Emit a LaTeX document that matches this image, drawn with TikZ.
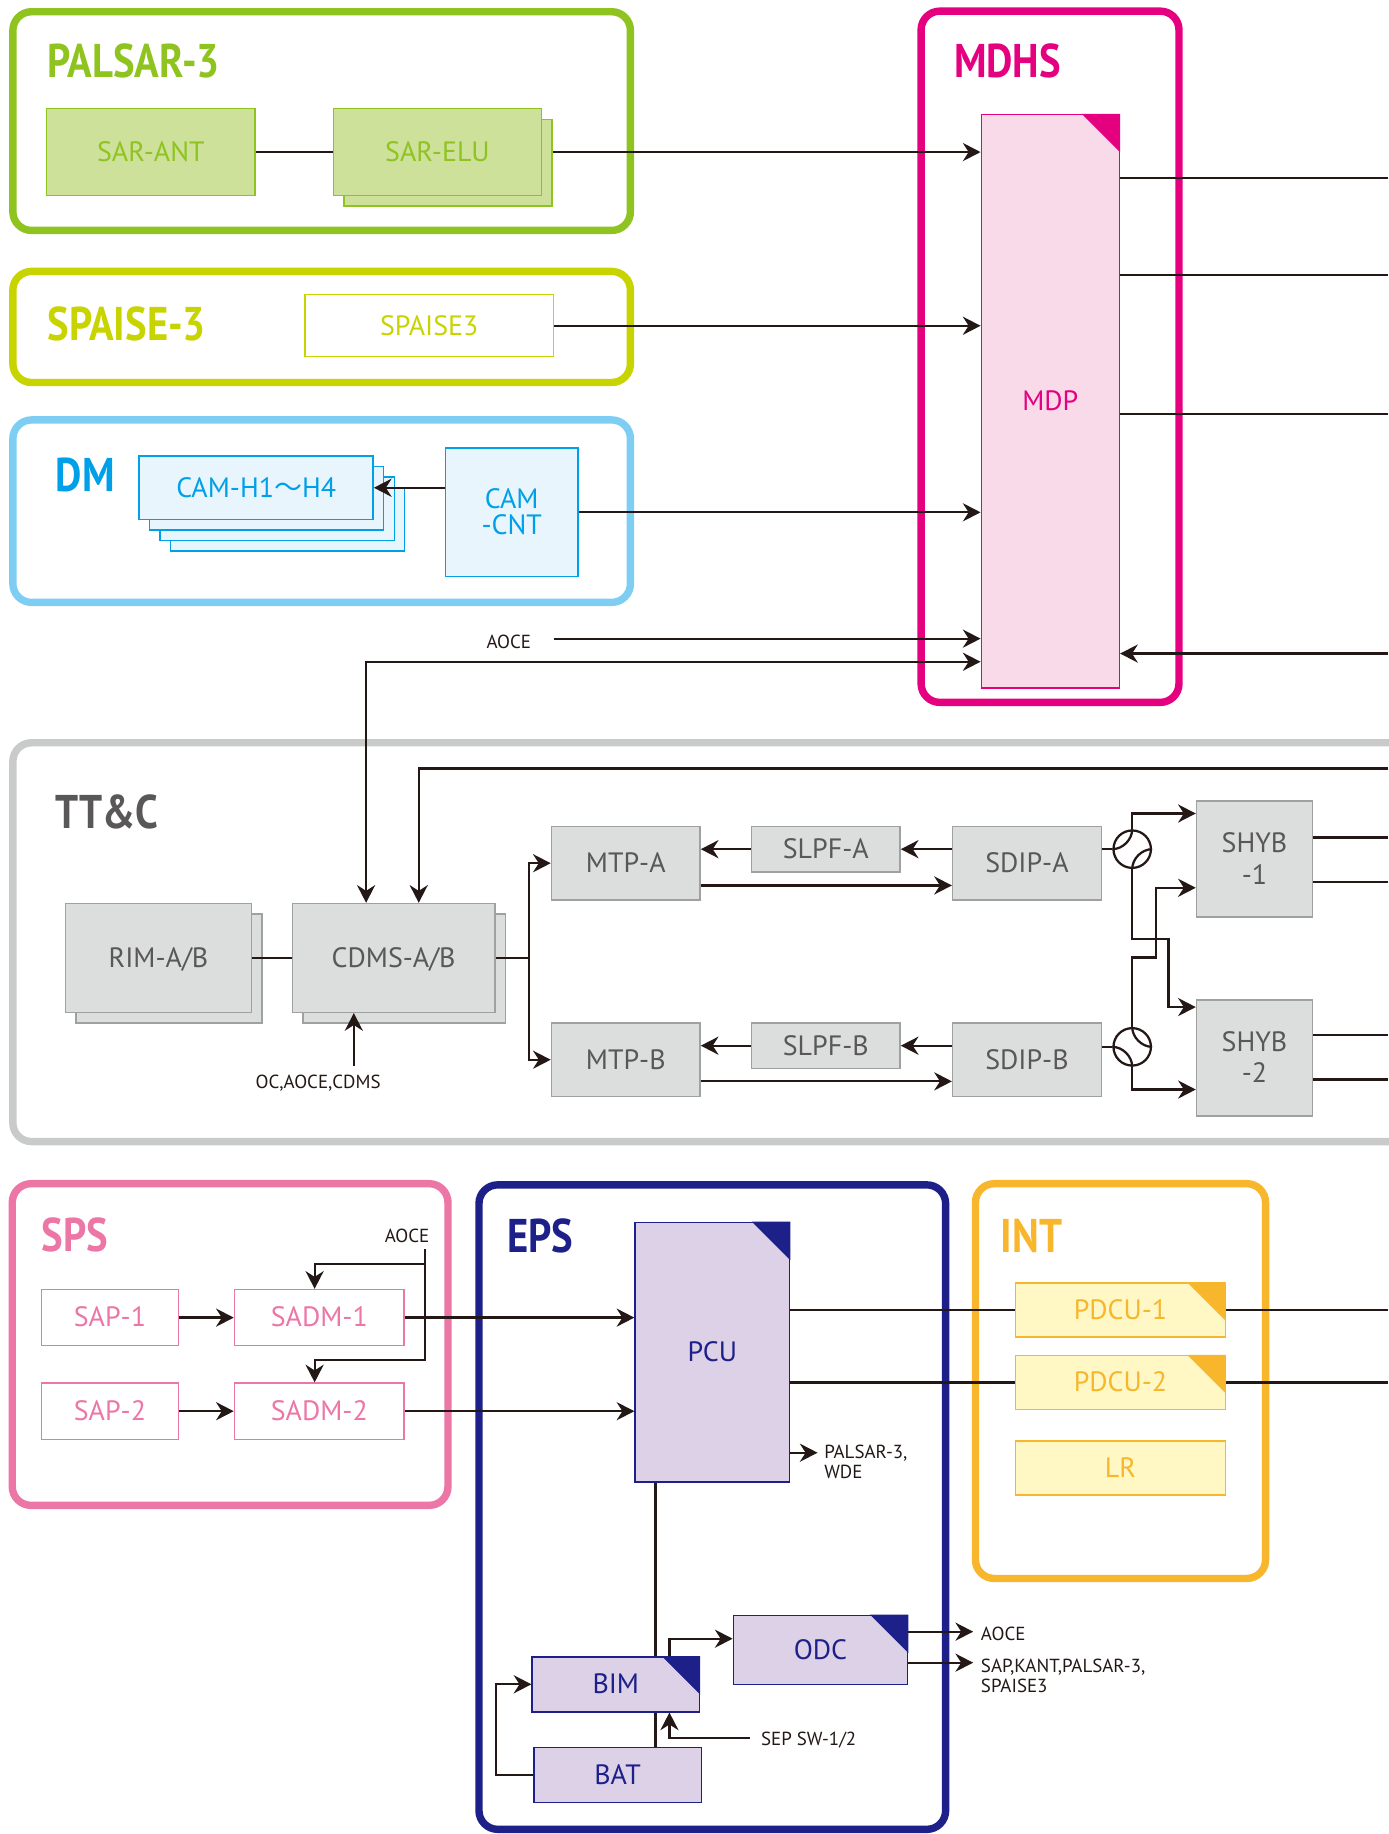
\documentclass[tikz,border=0pt]{standalone}
\usepackage{fontspec}
\setmainfont{PT Sans}
\newfontfamily\ttlfont{PT Sans}[FakeStretch=0.86]
\newfontfamily\cjkfont{Noto Sans CJK JP}
\usepackage{tikz}
\usetikzlibrary{positioning, arrows.meta, calc}
\definecolor{cK}{RGB}{35,24,21}
\definecolor{cPal}{RGB}{143,195,31}
\definecolor{cPalF}{RGB}{205,225,155}
\definecolor{cSpa}{RGB}{200,212,0}
\definecolor{cDm}{RGB}{126,206,244}
\definecolor{cDmT}{RGB}{0,160,233}
\definecolor{cDmF}{RGB}{232,245,252}
\definecolor{cMd}{RGB}{228,0,127}
\definecolor{cMdF}{RGB}{249,218,233}
\definecolor{cTt}{RGB}{201,202,202}
\definecolor{cTtF}{RGB}{220,221,221}
\definecolor{cTtE}{RGB}{159,160,160}
\definecolor{cTtT}{RGB}{89,87,87}
\definecolor{cSp}{RGB}{236,118,166}
\definecolor{cEp}{RGB}{29,32,136}
\definecolor{cEpF}{RGB}{221,209,232}
\definecolor{cIn}{RGB}{248,182,45}
\definecolor{cInF}{RGB}{255,248,196}

\tikzset{
  grp/.style={line width=1.8pt, rounded corners=0.16cm},
  ttl/.style={anchor=west, inner sep=0pt, font=\ttlfont\bfseries\fontsize{11.5pt}{13pt}\selectfont},
  blk/.style={draw, rectangle, inner sep=0pt, line width=0.35pt, align=center, text depth=0.3pt, font=\fontsize{6.8pt}{7.6pt}\selectfont},
  sz/.style 2 args={minimum width=#1cm, minimum height=#2cm},
  lbl/.style={inner sep=0pt, align=left, text=cK, font=\fontsize{4.6pt}{4.8pt}\selectfont},
  wire/.style={draw=cK, line width=0.55pt},
  arw/.style={wire, -{Stealth[length=4.3pt, width=4.4pt]}},
  darw/.style={wire, {Stealth[length=4.3pt, width=4.4pt]}-{Stealth[length=4.3pt, width=4.4pt]}},
  circ/.style={circle, draw=cK, line width=0.55pt, minimum size=0.32cm, inner sep=0pt},
  palB/.style={blk, fill=cPalF, draw=cPal, text=cPal},
  spaB/.style={blk, fill=white, draw=cSpa, text=cSpa},
  dmB/.style={blk, fill=cDmF, draw=cDmT, text=cDmT},
  mdB/.style={blk, fill=cMdF, draw=cMd, text=cMd},
  ttB/.style={blk, fill=cTtF, draw=cTtE, text=cTtT},
  spB/.style={blk, fill=white, draw=cSp, text=cSp},
  epB/.style={blk, fill=cEpF, draw=cEp, text=cEp},
  inB/.style={blk, fill=cInF, draw=cIn, text=cIn}
}
\newcommand{\cornertab}[2]{\fill[#2] (#1.north east) -- ++(-33,0) -- ++(33,33) -- cycle;}

\begin{document}
\begin{tikzpicture}[x=0.01cm, y=-0.01cm]
    \useasboundingbox (0,0) rectangle (1187,1568);
    \coordinate (xR) at (1187,0);

    % PALSAR-3
    \draw[grp, draw=cPal] (11,10) rectangle (539,197);
    \node[ttl, text=cPal] (tPal) at (40,52) {PALSAR-3};
    \node[palB, sz={1.78}{0.74}] (sarant) at (129,130) {SAR-ANT};
    \node[palB, sz={1.78}{0.74}] (sareluS) at (383,139) {};
    \node[palB, sz={1.78}{0.74}] (sarelu) at (374,130) {SAR-ELU};

    % SPAISE-3
    \draw[grp, draw=cSpa] (11,232) rectangle (539,327);
    \node[ttl, text=cSpa] (tSpa) at (40,277) {SPAISE-3};
    \node[spaB, sz={2.12}{0.53}] (spaise) at (367,278.5) {SPAISE3};

    % DM
    \draw[grp, draw=cDm] (11,359) rectangle (539,515);
    \node[ttl, text=cDmT] (tDm) at (47,406) {DM};
    \node[dmB, sz={2.00}{0.54}] (camh3) at (246,444) {};
    \node[dmB, sz={2.00}{0.54}] (camh2) at (237,435) {};
    \node[dmB, sz={2.00}{0.54}] (camh1) at (228,426) {};
    \node[dmB, sz={2.00}{0.54}] (camh) at (219,417) {CAM-H1{\cjkfont ～}H4};
    \node[dmB, sz={1.13}{1.10}] (camcnt) at (437.5,438) {CAM\\[-1.4pt]-CNT};

    % MDHS
    \draw[grp, draw=cMd] (787.5,9.5) rectangle (1008,600.5);
    \node[ttl, text=cMd] (tMd) at (815,52) {MDHS};
    \node[mdB, sz={1.18}{4.90}] (mdp) at (898,343) {MDP};
    \cornertab{mdp}{cMd}

    % TT&C
    \draw[grp, draw=cTt] (1200,635) -- (11,635) -- (11,976) -- (1200,976);
    \node[ttl, text=cTtT] (tTt) at (47,694) {TT\&C};
    \node[ttB, sz={1.59}{0.93}] (rimS) at (144.5,828) {};
    \node[ttB, sz={1.59}{0.93}] (rim) at (135.5,819) {RIM-A/B};
    \node[ttB, sz={1.73}{0.93}] (cdmsS) at (345.5,828) {};
    \node[ttB, sz={1.73}{0.93}] (cdms) at (336.5,819) {CDMS-A/B};
    \node[ttB, sz={1.27}{0.63}] (mtpa) at (535,738) {MTP-A};
    \node[ttB, sz={1.27}{0.39}] (slpfa) at (706,726) {SLPF-A};
    \node[ttB, sz={1.27}{0.63}] (sdipa) at (878,738) {SDIP-A};
    \node[ttB, sz={1.27}{0.63}] (mtpb) at (535,906) {MTP-B};
    \node[ttB, sz={1.27}{0.39}] (slpfb) at (706,894) {SLPF-B};
    \node[ttB, sz={1.27}{0.63}] (sdipb) at (878,906) {SDIP-B};
    \node[ttB, sz={0.99}{0.99}] (shyb1) at (1072.5,734.5) {SHYB\\-1};
    \node[ttB, sz={0.99}{0.99}] (shyb2) at (1072.5,904.5) {SHYB\\-2};
    \node[circ] (cira) at (968,726) {};
    \node[circ] (cirb) at (968,895) {};
    \node[lbl] (lbOC) at (272,926) {OC,AOCE,CDMS};
    \node[lbl] (lbAo1) at (435,548.5) {AOCE};

    % SPS
    \draw[grp, draw=cSp] (10.5,1012) rectangle (383,1287);
    \node[ttl, text=cSp] (tSp) at (35,1056) {SPS};
    \node[spB, sz={1.17}{0.48}] (sap1) at (94,1126.5) {SAP-1};
    \node[spB, sz={1.45}{0.48}] (sadm1) at (273,1126.5) {SADM-1};
    \node[spB, sz={1.17}{0.48}] (sap2) at (94,1206.5) {SAP-2};
    \node[spB, sz={1.45}{0.48}] (sadm2) at (273,1206.5) {SADM-2};
    \node[lbl] (lbAo2) at (348,1057) {AOCE};

    % EPS
    \draw[grp, draw=cEp] (409.5,1013) rectangle (808.5,1564);
    \node[ttl, text=cEp] (tEp) at (433,1057) {EPS};
    \node[epB, sz={1.32}{2.22}] (pcu) at (609,1156) {PCU};
    \cornertab{pcu}{cEp}
    \node[epB, sz={1.43}{0.47}] (bim) at (526.5,1440) {BIM};
    \cornertab{bim}{cEp}
    \node[epB, sz={1.43}{0.47}] (bat) at (528,1517.5) {BAT};
    \node[epB, sz={1.49}{0.59}] (odc) at (701.5,1410.5) {ODC};
    \cornertab{odc}{cEp}
    \node[lbl, anchor=west] (lbPal) at (704,1250) {PALSAR-3,\\WDE};
    \node[lbl, anchor=west] (lbSep) at (650,1488) {SEP SW-1/2};
    \node[lbl, anchor=west] (lbAo3) at (838,1397) {AOCE};
    \node[lbl, anchor=west] (lbSap) at (838,1433) {SAP,KANT,PALSAR-3,\\SPAISE3};

    % INT
    \draw[grp, draw=cIn] (834,1012) rectangle (1082,1349.5);
    \node[ttl, text=cIn] (tIn) at (855,1057) {INT};
    \node[inB, sz={1.79}{0.46}] (pdcu1) at (958,1120) {PDCU-1};
    \cornertab{pdcu1}{cIn}
    \node[inB, sz={1.79}{0.46}] (pdcu2) at (958,1182) {PDCU-2};
    \cornertab{pdcu2}{cIn}
    \node[inB, sz={1.79}{0.46}] (lr) at (958,1255) {LR};

    % Payload to MDP
    \draw[wire] (sarant.east) -- (sarelu.west);
    \draw[arw] (sareluS.east |- sarelu) -- (sarelu -| mdp.west);
    \draw[arw] (spaise.east) -- (spaise -| mdp.west);
    \draw[arw] (camcnt.west |- camh) -- (camh.east);
    \draw[arw] (camcnt.east) -- (camcnt -| mdp.west);
    \coordinate (ao1) at (474,546);
    \draw[arw] (ao1) -- (ao1 -| mdp.west);
    \draw[darw] ($(cdms.north)+(-23.5,0)$) |- ($(mdp.south west)+(0,-23)$);

    % MDP outputs
    \draw[wire] ($(mdp.north east)+(0,55)$) coordinate (m1) -- (m1 -| xR);
    \draw[wire] ($(mdp.north east)+(0,138)$) coordinate (m2) -- (m2 -| xR);
    \draw[wire] ($(mdp.north east)+(0,257)$) coordinate (m3) -- (m3 -| xR);
    \coordinate (m4) at ($(mdp.south east)+(0,-30)$);
    \draw[arw] (m4 -| xR) -- (m4);

    % TT&C chain
    \coordinate (ttR) at (1187,657);
    \draw[arw] (ttR) -| ($(cdms.north)+(21.5,0)$);
    \draw[wire] (rim.east) -- (cdms.west);
    \coordinate (ocS) at (302.5,911);
    \draw[arw] (ocS) -- (ocS |- cdms.south);
    \coordinate (jn) at ($(cdms.east)+(28.5,0)$);
    \draw[wire] (cdms.east) -- (jn);
    \draw[arw] (jn) |- (mtpa.west);
    \draw[arw] (jn) |- (mtpb.west);
    \draw[arw] (sdipa.west |- slpfa) -- (slpfa.east);
    \draw[arw] (slpfa.west) -- (slpfa -| mtpa.east);
    \draw[arw] ($(mtpa.east)+(0,19)$) coordinate (ma) -- (ma -| sdipa.west);
    \draw[arw] (sdipb.west |- slpfb) -- (slpfb.east);
    \draw[arw] (slpfb.west) -- (slpfb -| mtpb.east);
    \draw[arw] ($(mtpb.east)+(0,18.5)$) coordinate (mb) -- (mb -| sdipb.west);

    % Circulators
    \draw[wire] (sdipa.east |- cira) -- (cira.west);
    \draw[wire] (sdipb.east |- cirb) -- (cirb.west);
    \draw[wire] (cira.west) .. controls +(8.8,0) and +(0,8.8) .. (cira.north);
    \draw[wire] (cira.east) .. controls +(-8.8,0) and +(0,-8.8) .. (cira.south);
    \draw[wire] (cirb.west) .. controls +(8.8,0) and +(0,-8.8) .. (cirb.south);
    \draw[wire] (cirb.north) .. controls +(0,8.8) and +(-8.8,0) .. (cirb.east);
    \draw[arw] (cira.north) |- ($(shyb1.west)+(0,-39)$);
    \draw[arw] (cira.south) |- ++(31,60) |- ($(shyb2.west)+(0,-43.5)$);
    \draw[arw] (cirb.north) |- ++(20.5,-59.5) |- ($(shyb1.west)+(0,24.5)$);
    \draw[arw] (cirb.south) |- ($(shyb2.west)+(0,27)$);

    % SHYB outputs
    \draw[wire] ($(shyb1.east)+(0,-18.5)$) coordinate (h1) -- (h1 -| xR);
    \draw[wire] ($(shyb1.east)+(0,19.5)$) coordinate (h2) -- (h2 -| xR);
    \draw[wire] ($(shyb2.east)+(0,-19.5)$) coordinate (h3) -- (h3 -| xR);
    \draw[wire] ($(shyb2.east)+(0,18.5)$) coordinate (h4) -- (h4 -| xR);

    % SPS
    \draw[arw] (sap1.east) -- (sadm1.west);
    \draw[arw] (sap2.east) -- (sadm2.west);
    \coordinate (spsA) at (363.5,1068);
    \draw[arw] (spsA) |- ($(sadm1.north)+(-4,-21)$) -- ($(sadm1.north)+(-4,0)$);
    \draw[arw] (spsA) |- ($(sadm2.north)+(-4,-19)$) -- ($(sadm2.north)+(-4,0)$);
    \draw[arw] (sadm1.east) -- (sadm1 -| pcu.west);
    \draw[arw] (sadm2.east) -- (sadm2 -| pcu.west);

    % EPS and INT
    \draw[wire] (pcu.east |- pdcu1) -- (pdcu1.west);
    \draw[wire] (pcu.east |- pdcu2) -- (pdcu2.west);
    \draw[wire] (pdcu1.east) -- (pdcu1 -| xR);
    \draw[wire] (pdcu2.east) -- (pdcu2 -| xR);
    \coordinate (palT) at (699,1242);
    \draw[arw] (pcu.east |- palT) -- (palT);
    \coordinate (bus) at ($(pcu.south west)+(18,0)$);
    \draw[wire] (bus) -- (bus |- bim.north);
    \draw[wire] (bus |- bim.south) -- (bus |- bat.north);
    \draw[arw] (bat.west) -- ++(-32,0) |- (bim.west);
    \coordinate (bimT) at ($(bim.north west)+(118,0)$);
    \draw[arw] (bimT) |- ($(odc.west)+(0,-9.5)$);
    \coordinate (sepS) at (641,1486);
    \draw[arw] (sepS) -| (bimT |- bim.south);
    \coordinate (odcX) at (832,1395);
    \draw[arw] (odc.east |- odcX) -- (odcX);
    \draw[arw] ($(odc.east)+(0,11)$) coordinate (o2) -- (o2 -| odcX);
\end{tikzpicture}
\end{document}
